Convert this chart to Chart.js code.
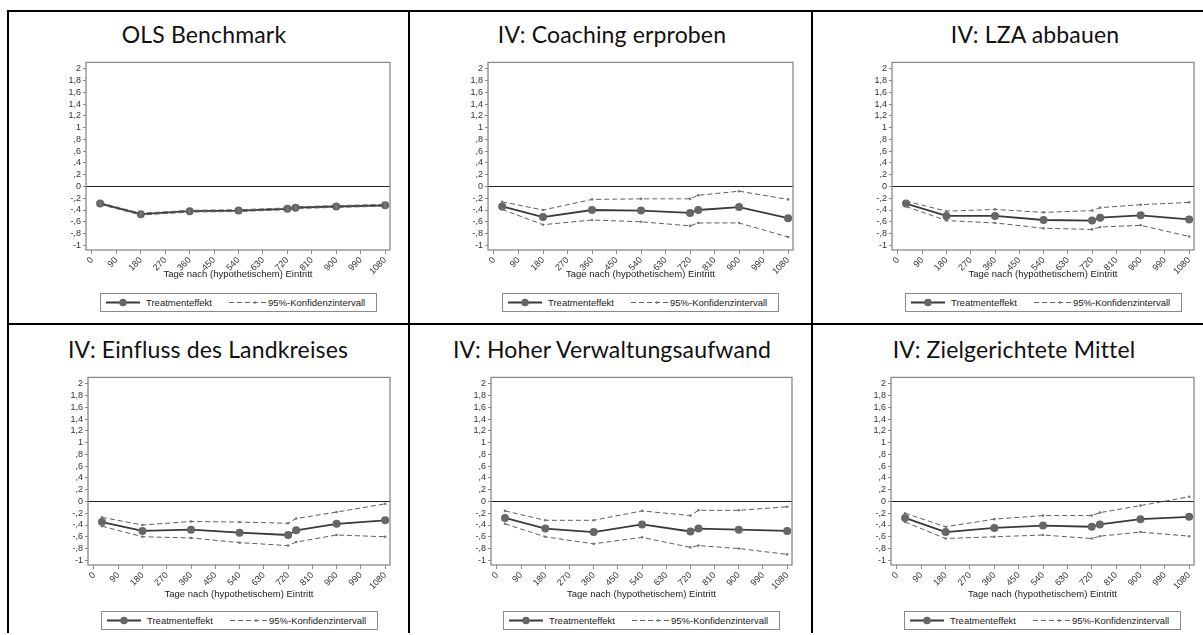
<!DOCTYPE html>
<html>
<head>
<meta charset="utf-8">
<script src="https://cdn.jsdelivr.net/npm/chart.js@4.4.1/dist/chart.umd.min.js"></script>
<style>
    body { margin: 0; width: 1203px; height: 635px; background: #fff; position: relative; overflow: hidden; font-family: "Liberation Sans", Arial, sans-serif; }
    .linie { position: absolute; background: #000; }
    .titel { position: absolute; font-family: Lato, sans-serif; font-size: 23px; line-height: 23px; letter-spacing: 0.15px; color: #111; white-space: nowrap; transform: translateX(-50%); }
    canvas { position: absolute; }
    .legende { position: absolute; width: 277px; height: 19px; box-sizing: border-box; border: 1px solid #8a8a8a; background: #fff; font-size: 9.5px; color: #222; }
    .legende span { position: absolute; top: 3px; white-space: nowrap; }
    .legende svg { position: absolute; top: 0; left: 0; }
</style>
</head>
<body>
<script>
// ===================================
// DATEN
// ===================================
const tage = [30, 180, 360, 540, 720, 750, 900, 1080];
const xTicks = [0, 90, 180, 270, 360, 450, 540, 630, 720, 810, 900, 990, 1080];
const yTicks = [-1, -0.8, -0.6, -0.4, -0.2, 0, 0.2, 0.4, 0.6, 0.8, 1, 1.2, 1.4, 1.6, 1.8, 2];
const yTickLabels = ['-1', '-,8', '-,6', '-,4', '-,2', '0', ',2', ',4', ',6', ',8', '1', '1,2', '1,4', '1,6', '1,8', '2'];

const titelListe = ['OLS Benchmark', 'IV: Coaching erproben', 'IV: LZA abbauen',
    'IV: Einfluss des Landkreises', 'IV: Hoher Verwaltungsaufwand', 'IV: Zielgerichtete Mittel'];

const effektOLS = [-0.29, -0.47, -0.42, -0.41, -0.38, -0.36, -0.34, -0.32];
const obenOLS   = [-0.275, -0.455, -0.405, -0.395, -0.365, -0.345, -0.325, -0.305];
const untenOLS  = [-0.305, -0.485, -0.435, -0.425, -0.395, -0.375, -0.355, -0.335];

const effektCoaching = [-0.34, -0.52, -0.40, -0.41, -0.45, -0.40, -0.35, -0.54];
const obenCoaching   = [-0.26, -0.40, -0.22, -0.21, -0.21, -0.15, -0.08, -0.22];
const untenCoaching  = [-0.39, -0.65, -0.57, -0.60, -0.67, -0.62, -0.62, -0.86];

const effektLZA = [-0.29, -0.50, -0.50, -0.57, -0.58, -0.53, -0.49, -0.56];
const obenLZA   = [-0.25, -0.42, -0.39, -0.44, -0.41, -0.36, -0.31, -0.27];
const untenLZA  = [-0.34, -0.58, -0.62, -0.71, -0.73, -0.69, -0.66, -0.85];

const effektLandkreis = [-0.35, -0.50, -0.48, -0.53, -0.57, -0.49, -0.38, -0.32];
const obenLandkreis   = [-0.27, -0.40, -0.34, -0.35, -0.37, -0.29, -0.18, -0.04];
const untenLandkreis  = [-0.42, -0.60, -0.62, -0.70, -0.75, -0.69, -0.57, -0.60];

const effektVerwaltung = [-0.28, -0.46, -0.52, -0.39, -0.51, -0.46, -0.48, -0.50];
const obenVerwaltung   = [-0.16, -0.32, -0.32, -0.16, -0.24, -0.15, -0.15, -0.09];
const untenVerwaltung  = [-0.38, -0.60, -0.72, -0.61, -0.78, -0.75, -0.80, -0.90];

const effektMittel = [-0.28, -0.52, -0.45, -0.41, -0.43, -0.39, -0.30, -0.26];
const obenMittel   = [-0.20, -0.43, -0.30, -0.24, -0.24, -0.19, -0.07, 0.08];
const untenMittel  = [-0.35, -0.63, -0.60, -0.57, -0.63, -0.59, -0.52, -0.59];

const reihen = [
    [effektOLS, obenOLS, untenOLS],
    [effektCoaching, obenCoaching, untenCoaching],
    [effektLZA, obenLZA, untenLZA],
    [effektLandkreis, obenLandkreis, untenLandkreis],
    [effektVerwaltung, obenVerwaltung, untenVerwaltung],
    [effektMittel, obenMittel, untenMittel]
];

// ===================================
// LAYOUT (Tabellenrahmen, Positionen)
// ===================================
const spalten = [8, 409, 812];
const zeilen = [11, 324];

// Pro Panel: Plotbereich links/rechts, Titelmitte
const plotLinks = [86, 488, 892, 88, 491, 891];
const plotRechts = [390, 793, 1194, 390, 792, 1194];
const titelMitte = [204, 612, 1035, 208, 612, 1014];
// Pro Zeile: Plot oben, Titel oben, Achsenhöhe, Legende oben
const plotOben = [58, 373];
const titelOben = [23, 338];
const achsenHoehe = [34, 39];
const legendeOben = [293, 611];
const plotHoehe = 192;

function linie(x, y, w, h) {
    const d = document.createElement('div');
    d.className = 'linie';
    d.style.left = x + 'px';
    d.style.top = y + 'px';
    d.style.width = w + 'px';
    d.style.height = h + 'px';
    document.body.appendChild(d);
}

// Tabellenrahmen (rechts und unten liegt er außerhalb des Bildes)
zeilen.forEach(y => linie(spalten[0] - 1, y - 1, 1210 - spalten[0], 2));
spalten.forEach(x => linie(x - 1, zeilen[0] - 1, 2, 634 - zeilen[0]));

// Rahmen um den Plotbereich + Nulllinie
const rahmenPlugin = {
    id: 'rahmen',
    beforeDatasetsDraw(chart) {
        const { ctx, chartArea: a, scales } = chart;
        const y0 = scales.y.getPixelForValue(0);
        ctx.save();
        ctx.strokeStyle = '#222';
        ctx.lineWidth = 1;
        ctx.beginPath();
        ctx.moveTo(a.left, Math.round(y0) + 0.5);
        ctx.lineTo(a.right, Math.round(y0) + 0.5);
        ctx.stroke();
        ctx.restore();
    },
    afterDraw(chart) {
        const { ctx, chartArea: a } = chart;
        ctx.save();
        ctx.strokeStyle = '#8a8a8a';
        ctx.lineWidth = 1.3;
        ctx.strokeRect(a.left, a.top, a.right - a.left, a.bottom - a.top);
        ctx.restore();
    }
};

function legende(links, oben) {
    const box = document.createElement('div');
    box.className = 'legende';
    box.style.left = links + 'px';
    box.style.top = oben + 'px';
    box.innerHTML =
        '<svg width="275" height="17">' +
        '<line x1="5" y1="8.5" x2="39" y2="8.5" stroke="#3a3a3a" stroke-width="1.8"/>' +
        '<circle cx="22" cy="8.5" r="3.8" fill="#666"/>' +
        '<line x1="128" y1="8.5" x2="165" y2="8.5" stroke="#666" stroke-width="1" stroke-dasharray="5,3"/>' +
        '<circle cx="154" cy="8.5" r="1.3" fill="#777"/>' +
        '</svg>' +
        '<span style="left:45px">Treatmenteffekt</span>' +
        '<span style="left:167px">95%-Konfidenzintervall</span>';
    document.body.appendChild(box);
}

// ===================================
// PANELS
// ===================================
reihen.forEach((reihe, i) => {
    const zeile = Math.floor(i / 3);
    const [effekt, oben, unten] = reihe;

    const titel = document.createElement('div');
    titel.className = 'titel';
    titel.textContent = titelListe[i];
    titel.style.left = titelMitte[i] + 'px';
    titel.style.top = titelOben[zeile] + 'px';
    document.body.appendChild(titel);

    const yBreite = 80;
    const canvas = document.createElement('canvas');
    const breite = plotRechts[i] - plotLinks[i] + yBreite + 4;
    const hoehe = 3 + plotHoehe + achsenHoehe[zeile];
    canvas.width = breite;
    canvas.height = hoehe;
    canvas.style.left = (plotLinks[i] - yBreite) + 'px';
    canvas.style.top = (plotOben[zeile] - 3) + 'px';
    document.body.appendChild(canvas);

    const ciStil = {
        borderColor: '#5e5e5e',
        borderWidth: 1,
        borderDash: [5, 3],
        pointRadius: 1.3,
        pointBackgroundColor: '#777',
        pointBorderWidth: 0,
        tension: 0,
        order: 0
    };

    new Chart(canvas, {
        type: 'line',
        data: {
            datasets: [
                Object.assign({ label: 'obere Grenze', data: tage.map((t, k) => ({ x: t, y: oben[k] })) }, ciStil),
                Object.assign({ label: 'untere Grenze', data: tage.map((t, k) => ({ x: t, y: unten[k] })) }, ciStil),
                {
                    label: 'Treatmenteffekt',
                    data: tage.map((t, k) => ({ x: t, y: effekt[k] })),
                    borderColor: '#3a3a3a',
                    borderWidth: 1.8,
                    pointRadius: 4,
                    pointBackgroundColor: '#666',
                    pointBorderWidth: 0,
                    tension: 0,
                    order: 1
                }
            ]
        },
        options: {
            responsive: false,
            animation: false,
            devicePixelRatio: 1,
            layout: { padding: { top: 3, right: 4, left: 0, bottom: 0 } },
            plugins: {
                legend: { display: false },
                tooltip: { enabled: false }
            },
            scales: {
                x: {
                    type: 'linear',
                    min: -22,
                    max: 1098,
                    afterBuildTicks: function (scale) {
                        scale.ticks = xTicks.map(v => ({ value: v }));
                    },
                    afterFit: function (scale) {
                        scale.height = achsenHoehe[zeile];
                    },
                    ticks: {
                        autoSkip: false,
                        maxRotation: 45,
                        minRotation: 45,
                        padding: 1,
                        color: '#333',
                        font: { family: 'Liberation Sans', size: 9 },
                        callback: function (value) {
                            return String(value);
                        }
                    },
                    grid: { drawOnChartArea: false, tickLength: 4, tickColor: '#8a8a8a' },
                    border: { display: false },
                    title: {
                        display: true,
                        text: 'Tage nach (hypothetischem) Eintritt',
                        color: '#222',
                        font: { family: 'Liberation Sans', size: 9.5 },
                        padding: { top: 0, bottom: 4 }
                    }
                },
                y: {
                    min: -1.08,
                    max: 2.11,
                    afterBuildTicks: function (scale) {
                        scale.ticks = yTicks.map(v => ({ value: v }));
                    },
                    afterFit: function (scale) {
                        scale.width = yBreite;
                    },
                    ticks: {
                        autoSkip: false,
                        padding: 2,
                        color: '#333',
                        font: { family: 'Liberation Sans', size: 9 },
                        callback: function (value) {
                            const k = yTicks.findIndex(t => Math.abs(t - value) < 1e-6);
                            return k >= 0 ? yTickLabels[k] : '';
                        }
                    },
                    grid: { drawOnChartArea: false, tickLength: 3, tickColor: '#8a8a8a' },
                    border: { display: false }
                }
            }
        },
        plugins: [rahmenPlugin]
    });

    const mitte = (plotLinks[i] + plotRechts[i]) / 2;
    legende(Math.round(mitte - 138.5), legendeOben[zeile]);
});
</script>
</body>
</html>
